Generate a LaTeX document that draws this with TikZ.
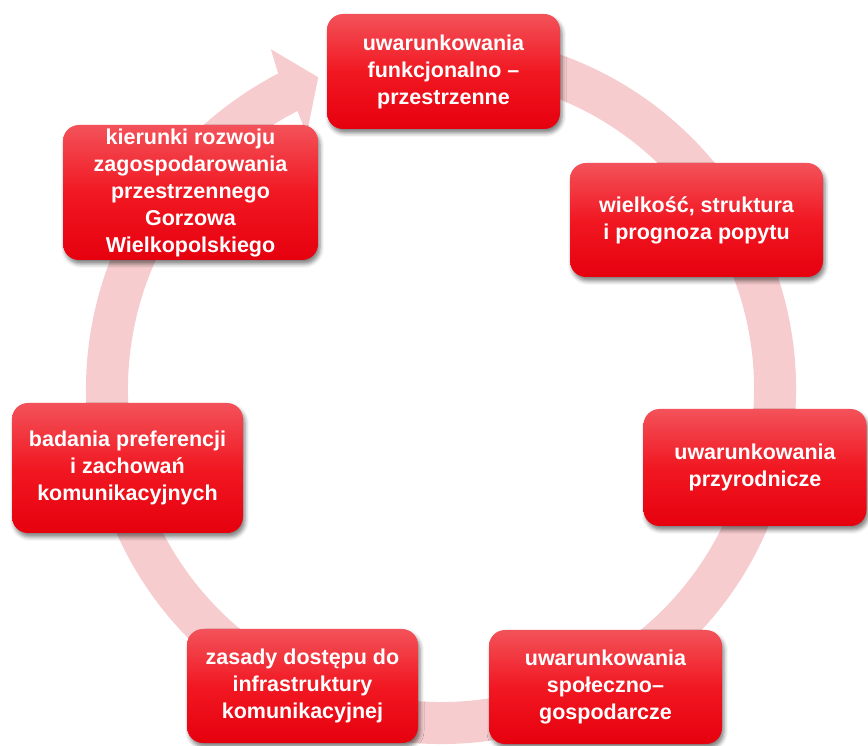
\documentclass[tikz,border=0pt]{standalone}
\usepackage{fontspec}
\setmainfont{Liberation Sans}
\usetikzlibrary{shadows.blur}
\definecolor{ringpink}{RGB}{247,204,206}
\definecolor{boxtop}{RGB}{243,82,90}
\definecolor{boxmid}{RGB}{241,24,34}
\definecolor{boxbot}{RGB}{230,0,14}
\newcommand{\boxfont}{\fontsize{21.5}{27}\selectfont\bfseries}
\tikzset{
  redbox/.style={rectangle, rounded corners=16pt, inner sep=0pt,
    top color=boxtop, bottom color=boxbot, middle color=boxmid,
    text=white, font=\boxfont, align=center,
    blur shadow={shadow xshift=2pt, shadow yshift=-4pt, shadow blur radius=4pt, shadow opacity=50}},
  ringband/.style={line width=42pt, draw=ringpink}
}
\begin{document}
\begin{tikzpicture}[x=1pt,y=1pt]
\useasboundingbox (0,0) rectangle (868,745);
% ring with arrowhead
\begin{scope}[shift={(441,356)}]
  \coordinate (ringstart) at (80:334);
  \draw[ringband] (ringstart) arc[start angle=80, end angle=-242.7, radius=334];
  \coordinate (hE) at (119:313);
  \coordinate (hA) at (117.3:313);
  \coordinate (hB) at (117.8:288);
  \coordinate (hTip) at (111.5:335);
  \coordinate (hC) at (116.6:380);
  \coordinate (hD) at (117.3:355);
  \coordinate (hF) at (119:355);
  \fill[ringpink] (hF) -- (hE) -- (hA) -- (hB) -- (hTip) -- (hC) -- (hD) -- cycle;
\end{scope}
% boxes
\node[redbox, minimum width=233pt, minimum height=115pt] (n1) at (443.5,673.5)
  {uwarunkowania\\funkcjonalno –\\przestrzenne};
\node[redbox, minimum width=253pt, minimum height=114pt] (n2) at (696.5,525)
  {wielkość, struktura\\i prognoza popytu};
\node[redbox, minimum width=223pt, minimum height=117pt] (n3) at (755,277.5)
  {uwarunkowania\\przyrodnicze};
\node[redbox, minimum width=233pt, minimum height=114pt] (n4) at (605.5,58)
  {uwarunkowania\\społeczno–\\gospodarcze};
\node[redbox, minimum width=231pt, minimum height=114pt] (n5) at (302.5,59)
  {zasady dostępu do\\infrastruktury\\komunikacyjnej};
\node[redbox, minimum width=231pt, minimum height=130pt] (n6) at (127.5,277)
  {badania preferencji\\i zachowań\\komunikacyjnych};
\node[redbox, minimum width=255pt, minimum height=135pt] (n7) at (190.5,552.5)
  {kierunki rozwoju\\zagospodarowania\\przestrzennego\\Gorzowa\\Wielkopolskiego};
\end{tikzpicture}
\end{document}
